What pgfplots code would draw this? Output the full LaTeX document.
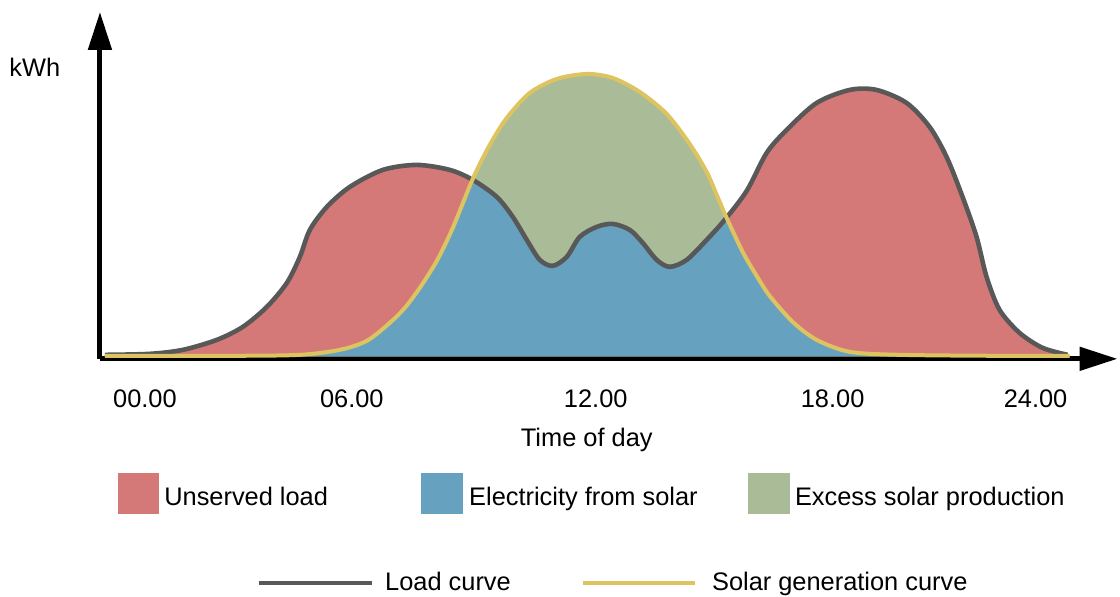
\documentclass[border=0pt]{standalone}
\usepackage{fontspec}
\setmainfont{Liberation Sans}
\usepackage{pgfplots}
\pgfplotsset{compat=1.18}
\usepackage{pgfplotstable}
\usepgfplotslibrary{fillbetween}
\usetikzlibrary{arrows.meta}

\definecolor{unserved}{RGB}{212,121,119}
\definecolor{fromsolar}{RGB}{102,162,192}
\definecolor{excess}{RGB}{170,187,152}
\definecolor{loadline}{RGB}{87,88,87}
\definecolor{solarline}{RGB}{221,196,96}

% x in picture pixels, y in pixels above the time axis
\pgfplotstableread{
x y
105 4
150 5
183 9
217 19
243 32
267 52
287 76
300 102
310 129
327 152
350 172
383 189
417 194
450 189
473 179
497 162
513 142
527 119
540 99
553 93
567 102
580 122
597 132
613 135
630 129
643 116
657 99
670 92
687 99
707 119
725 139
747 168
767 206
787 229
817 256
850 269
877 269
907 256
930 232
947 202
963 162
977 122
987 82
1000 49
1020 26
1043 11
1068 4
}\loadtable

\pgfplotstableread{
x y
105 3
230 3
300 4
340 9
367 18
390 36
405 51
420 71
437 98
453 131
473 180
490 214
507 241
530 266
557 280
587 285
613 281
640 267
667 245
690 215
707 187
717 164
727 141
743 107
757 83
770 63
793 37
817 19
850 7
900 4
1000 3
1070 3
}\solartable

\begin{document}
\fontsize{12.7}{15}\selectfont
\begin{tikzpicture}
\begin{axis}[
  scale only axis,
  width=509pt, height=173.5pt,
  xmin=100, xmax=1118, ymin=0, ymax=347,
  axis lines=left,
  axis line style={line width=2.5pt, -{Triangle[length=19pt,width=11.5pt]}},
  xtick={145,352,596,833,1036},
  xticklabels={00.00,06.00,12.00,18.00,24.00},
  ytick=\empty,
  major tick length=0pt,
  xticklabel style={yshift=-10.8pt},
  xlabel={Time of day},
  xlabel style={at={(0.4784,-0.233)}, anchor=center},
  ylabel={kWh},
  ylabel style={at={(-0.064,0.84)}, rotate=-90, anchor=center},
  clip=false,
]
  % invisible paths for the fills
  \addplot[draw=none, smooth, name path=load] table {\loadtable};
  \addplot[draw=none, smooth, name path=solar] table {\solartable};
  \addplot[draw=none, name path=base] coordinates {(105,2.5) (1070,2.5)};
  \path[name path=minc, intersection segments={of=solar and load, sequence={L1 -- R2 -- L3}}];

  \addplot[unserved] fill between[of=load and base];
  \addplot[excess] fill between[of=solar and base];
  \addplot[fromsolar] fill between[of=minc and base];

  % curves
  \addplot[loadline, line width=2.3pt, smooth] table {\loadtable};
  \addplot[solarline, line width=2pt, smooth] table {\solartable};

  % legend
  \fill[unserved] (axis cs:118,-114) rectangle (axis cs:159,-155);
  \node[anchor=base west, inner sep=0pt] at (axis cs:164,-147) {Unserved load};
  \fill[fromsolar] (axis cs:421,-114) rectangle (axis cs:463,-155);
  \node[anchor=base west, inner sep=0pt] at (axis cs:469,-147) {Electricity from solar};
  \fill[excess] (axis cs:748,-114) rectangle (axis cs:790,-155);
  \node[anchor=base west, inner sep=0pt] at (axis cs:795,-147) {Excess solar production};

  \draw[loadline, line width=2pt] (axis cs:259,-224) -- (axis cs:372,-224);
  \node[anchor=base west, inner sep=0pt] at (axis cs:385,-232) {Load curve};
  \draw[solarline, line width=2pt] (axis cs:583,-224) -- (axis cs:695,-224);
  \node[anchor=base west, inner sep=0pt] at (axis cs:712,-232) {Solar generation curve};

  % page size
  \path (axis cs:0,-238) rectangle (axis cs:1120,359);
\end{axis}
\end{tikzpicture}
\end{document}
